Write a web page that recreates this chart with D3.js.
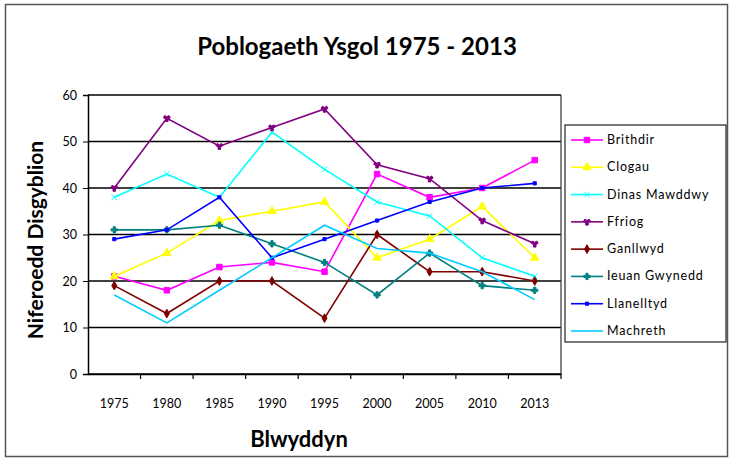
<!DOCTYPE html>
<html>
<head>
<meta charset="utf-8">
<script src="https://cdn.jsdelivr.net/npm/d3@7"></script>
<style>
  body { margin: 0; background: #fff; }
  text { font-family: Lato, "Open Sans", sans-serif; }
</style>
</head>
<body>
<div class="chart"></div>
<script>
var years = ['1975', '1980', '1985', '1990', '1995', '2000', '2005', '2010', '2013'];
var yTicks = [0, 10, 20, 30, 40, 50, 60];

var schools = ['Brithdir', 'Clogau', 'Dinas Mawddwy', 'Ffriog', 'Ganllwyd', 'Ieuan Gwynedd', 'Llanelltyd', 'Machreth'];
var colours = ['#ff00ff', '#ffff00', '#00ffff', '#800080', '#800000', '#008080', '#0000ff', '#00ccff'];

var brithdir     = [21, 18, 23, 24, 22, 43, 38, 40, 46];
var clogau       = [21, 26, 33, 35, 37, 25, 29, 36, 25];
var dinas        = [38, 43, 38, 52, 44, 37, 34, 25, 21];
var ffriog       = [40, 55, 49, 53, 57, 45, 42, 33, 28];
var ganllwyd     = [19, 13, 20, 20, 12, 30, 22, 22, 20];
var ieuan        = [31, 31, 32, 28, 24, 17, 26, 19, 18];
var llanelltyd   = [29, 31, 38, 25, 29, 33, 37, 40, 41];
var machreth     = [17, 11, 18, 25, 32, 27, 26, 22, 16];

var seriesValues = [brithdir, clogau, dinas, ffriog, ganllwyd, ieuan, llanelltyd, machreth];

var w = 730, h = 461;
var svg = d3.select('.chart').append('svg').attr('width', w).attr('height', h);

// outer frame
svg.append('rect').attr('x', 5.5).attr('y', 4.5).attr('width', 722).attr('height', 452)
   .attr('fill', '#fff').attr('stroke', '#555').attr('stroke-width', 1.5);

var plot = {left: 88, right: 561, top: 95, bottom: 374};

var x = d3.scaleBand().domain(years).range([plot.left, plot.right]);
var y = d3.scaleLinear().domain([0, 60]).range([plot.bottom, plot.top]);

// grid lines
svg.append('g').selectAll('line').data(yTicks).enter().append('line')
   .attr('x1', plot.left).attr('x2', plot.right)
   .attr('y1', function (d) { return y(d); }).attr('y2', function (d) { return y(d); })
   .attr('stroke', '#000').attr('stroke-width', 1.5);

// plot border right
svg.append('line').attr('x1', plot.right).attr('x2', plot.right)
   .attr('y1', plot.top).attr('y2', plot.bottom).attr('stroke', '#333').attr('stroke-width', 1.2);

// y axis
var yAxis = svg.append('g').attr('transform', 'translate(' + plot.left + ',0)')
   .call(d3.axisLeft(y).tickValues(yTicks).tickSize(5).tickPadding(6));
yAxis.select('.domain').attr('stroke', '#000').attr('stroke-width', 1.5);
yAxis.selectAll('.tick line').attr('stroke', '#000');
yAxis.selectAll('text').attr('font-size', 12.5).attr('fill', '#000');

// x axis, ticks between categories
var xAxis = svg.append('g').attr('transform', 'translate(0,' + plot.bottom + ')')
   .call(d3.axisBottom(x).tickSize(0).tickPadding(25));
xAxis.select('.domain').attr('stroke', '#000').attr('stroke-width', 1.5);
xAxis.selectAll('text').attr('font-size', 12.5).attr('fill', '#000');
svg.append('g').selectAll('line').data(years).enter().append('line')
   .attr('x1', function (d) { return x(d) + x.bandwidth(); })
   .attr('x2', function (d) { return x(d) + x.bandwidth(); })
   .attr('y1', plot.bottom).attr('y2', plot.bottom + 5)
   .attr('stroke', '#000').attr('stroke-width', 1.2);

var cx = function (i) { return x(years[i]) + x.bandwidth() / 2; };

var line = d3.line()
   .x(function (d, i) { return cx(i); })
   .y(function (d) { return y(d); });

var symbols = [d3.symbolSquare, d3.symbolTriangle, d3.symbolX, d3.symbolWye, d3.symbolDiamond, d3.symbolCross, d3.symbolSquare, null];
var symSizes = [30, 30, 22, 22, 22, 22, 10, 0];

seriesValues.forEach(function (vals, s) {
  var g = svg.append('g');
  g.append('path').datum(vals).attr('d', line)
   .attr('fill', 'none').attr('stroke', colours[s]).attr('stroke-width', 1.6);
  if (symbols[s]) {
    g.selectAll('path.m').data(vals).enter().append('path').attr('class', 'm')
     .attr('transform', function (d, i) { return 'translate(' + cx(i) + ',' + y(d) + ')'; })
     .attr('d', d3.symbol().type(symbols[s]).size(symSizes[s]))
     .attr('fill', colours[s]).attr('stroke', colours[s]).attr('stroke-width', 1);
  }
});

// titles
svg.append('text').attr('x', 357).attr('y', 55).attr('text-anchor', 'middle')
   .attr('font-size', 24).attr('font-weight', 'bold').text('Poblogaeth Ysgol 1975 - 2013');
svg.append('text').attr('x', 299).attr('y', 447).attr('text-anchor', 'middle')
   .attr('font-size', 22).attr('font-weight', 'bold').text('Blwyddyn');
svg.append('text').attr('transform', 'translate(43,240) rotate(-90)').attr('text-anchor', 'middle')
   .attr('font-size', 21).attr('font-weight', 'bold').text('Niferoedd Disgyblion');

// legend
var legend = svg.append('g');
legend.append('rect').attr('x', 565).attr('y', 125).attr('width', 161).attr('height', 217)
   .attr('fill', '#fff').attr('stroke', '#222').attr('stroke-width', 1.2);
var ly = d3.scalePoint().domain(schools).range([140, 331]);
schools.forEach(function (name, s) {
  var yy = ly(name);
  legend.append('line').attr('x1', 571).attr('x2', 603).attr('y1', yy).attr('y2', yy)
    .attr('stroke', colours[s]).attr('stroke-width', 1.6);
  if (symbols[s]) {
    legend.append('path').attr('transform', 'translate(587,' + yy + ')')
      .attr('d', d3.symbol().type(symbols[s]).size(symSizes[s]))
      .attr('fill', colours[s]).attr('stroke', colours[s]);
  }
  legend.append('text').attr('x', 607).attr('y', yy + 4).attr('font-size', 12.5)
    .attr('letter-spacing', 0.8).text(name);
});
</script>
</body>
</html>
